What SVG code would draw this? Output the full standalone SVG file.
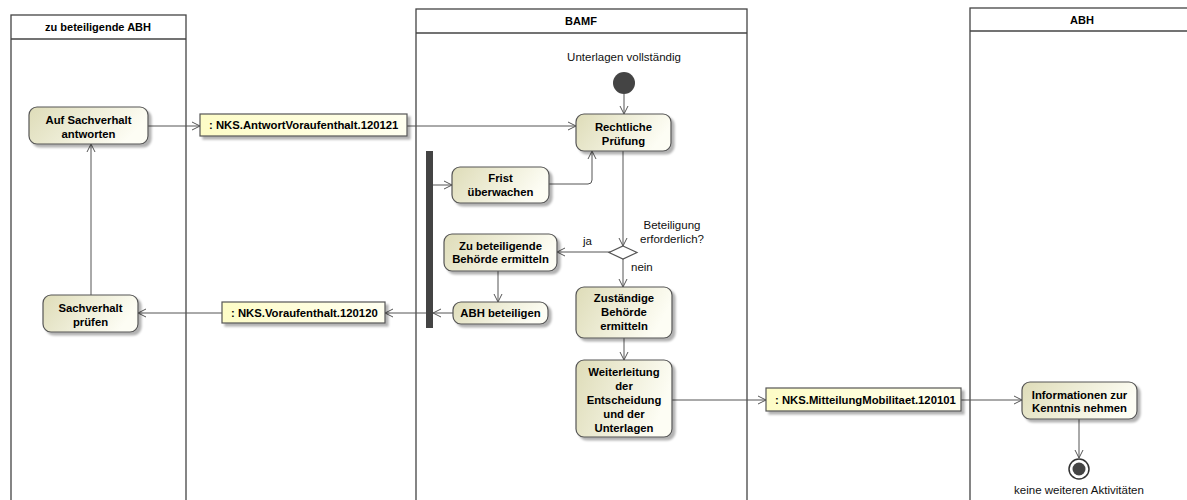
<svg xmlns="http://www.w3.org/2000/svg" width="1187" height="500" viewBox="0 0 1187 500">
<style>
.lane{fill:#fff;stroke:#444;stroke-width:1.3}
.hdr{font-family:"Liberation Sans",Arial,sans-serif;font-size:11px;font-weight:bold;fill:#000;text-anchor:middle}
.act{fill:url(#ag);stroke:#555;stroke-width:1.2;filter:url(#sh)}
.obj{fill:url(#og);stroke:#555;stroke-width:1.2;filter:url(#sh)}
.t{font-family:"Liberation Sans",Arial,sans-serif;font-size:11.3px;font-weight:bold;fill:#000;text-anchor:middle}
.ot{font-family:"Liberation Sans",Arial,sans-serif;font-size:11.3px;font-weight:bold;fill:#000}
.lbl{font-family:"Liberation Sans",Arial,sans-serif;font-size:11.5px;fill:#111}
.c{fill:none;stroke:#555;stroke-width:1;marker-end:url(#ar)}
.cn{fill:none;stroke:#555;stroke-width:1}
</style>
<defs>
<linearGradient id="ag" x1="0" y1="0" x2="1" y2="0.3">
<stop offset="0" stop-color="#dedcb8"/>
<stop offset="1" stop-color="#fdfdf4"/>
</linearGradient>
<linearGradient id="og" x1="0" y1="0" x2="1" y2="0">
<stop offset="0" stop-color="#fdfcc6"/>
<stop offset="1" stop-color="#fffff0"/>
</linearGradient>
<filter id="sh" x="-10%" y="-10%" width="130%" height="140%">
<feDropShadow dx="3" dy="3" stdDeviation="1.3" flood-color="#000" flood-opacity="0.3"/>
</filter>
<marker id="ar" markerWidth="10" markerHeight="10" refX="9" refY="5" orient="auto" markerUnits="userSpaceOnUse">
<path d="M1,1 L9,5 L1,9" fill="none" stroke="#555" stroke-width="1"/>
</marker>
</defs>

<g id="lane-zu-beteiligende-abh">
<rect class="lane" x="11" y="15" width="175" height="500"/>
<line x1="11" y1="39" x2="186" y2="39" stroke="#444" stroke-width="1.3"/>
<text class="hdr" x="98" y="31">zu beteiligende ABH</text>
</g>
<g id="lane-bamf">
<rect class="lane" x="416" y="9" width="331" height="500"/>
<line x1="416" y1="33" x2="747" y2="33" stroke="#444" stroke-width="1.3"/>
<text class="hdr" x="581" y="25">BAMF</text>
</g>
<g id="lane-abh">
<rect class="lane" x="970" y="8" width="225" height="500"/>
<line x1="970" y1="31" x2="1195" y2="31" stroke="#444" stroke-width="1.3"/>
<text class="hdr" x="1082" y="24">ABH</text>
</g>

<g id="connectors">
<path class="c" d="M148,126 H200"/>
<path class="c" d="M407,126 H576"/>
<path class="c" d="M624,94 V114"/>
<path class="c" d="M623,151 V246"/>
<path class="c" d="M610,252 H557"/>
<path class="c" d="M623,259 V287"/>
<path class="c" d="M498,271 V302"/>
<path class="c" d="M453,313 H433"/>
<path class="c" d="M433,185 H452"/>
<path class="c" d="M549,184 H588 Q592,184 592,180 V151"/>
<path class="c" d="M426,313 H385"/>
<path class="c" d="M222,313 H138"/>
<path class="c" d="M91,295 V144"/>
<path class="c" d="M624,338 V360"/>
<path class="c" d="M672,400 H766"/>
<path class="c" d="M961,400 H1022"/>
<path class="c" d="M1079,419 V458"/>
<text class="lbl" x="583" y="245">ja</text>
<text class="lbl" x="631" y="271">nein</text>
</g>

<g id="start">
<text class="lbl" x="624" y="61" text-anchor="middle">Unterlagen vollständig</text>
<circle cx="624" cy="83" r="11" fill="#444"/>
</g>

<g id="auf-sachverhalt-antworten">
<rect class="act" x="29" y="107" width="119" height="37" rx="8"/>
<text class="t" x="88.5" y="124">Auf Sachverhalt</text>
<text class="t" x="88.5" y="137.5">antworten</text>
</g>

<g id="sachverhalt-pruefen">
<rect class="act" x="43" y="295" width="95" height="37" rx="8"/>
<text class="t" x="90.5" y="312">Sachverhalt</text>
<text class="t" x="90.5" y="325.5">prüfen</text>
</g>

<g id="obj-antwort">
<rect class="obj" x="200" y="114" width="207" height="22"/>
<text class="ot" x="209" y="129">: NKS.AntwortVoraufenthalt.120121</text>
</g>

<g id="obj-voraufenthalt">
<rect class="obj" x="222" y="302" width="163" height="21"/>
<text class="ot" x="231" y="316.5">: NKS.Voraufenthalt.120120</text>
</g>

<g id="rechtliche-pruefung">
<rect class="act" x="576" y="114" width="95" height="37" rx="8"/>
<text class="t" x="623.5" y="131">Rechtliche</text>
<text class="t" x="623.5" y="144.5">Prüfung</text>
</g>

<g id="fork">
<rect x="426" y="151" width="7" height="177" fill="#444"/>
</g>

<g id="frist-ueberwachen">
<rect class="act" x="452" y="167" width="97" height="36" rx="8"/>
<text class="t" x="500.5" y="182">Frist</text>
<text class="t" x="500.5" y="195.5">überwachen</text>
</g>

<g id="decision">
<polygon points="623,246 637,252.5 623,259 609,252.5" fill="#fff" stroke="#555" stroke-width="1.2"/>
<text class="lbl" x="672" y="229" text-anchor="middle">Beteiligung</text>
<text class="lbl" x="672" y="243" text-anchor="middle">erforderlich?</text>
</g>

<g id="zu-beteiligende-behoerde">
<rect class="act" x="444" y="234" width="113" height="37" rx="8"/>
<text class="t" x="500.5" y="249.5">Zu beteiligende</text>
<text class="t" x="500.5" y="263">Behörde ermitteln</text>
</g>

<g id="abh-beteiligen">
<rect class="act" x="453" y="302" width="95" height="22" rx="8"/>
<text class="t" x="500.5" y="317">ABH beteiligen</text>
</g>

<g id="zustaendige-behoerde">
<rect class="act" x="576" y="287" width="96" height="51" rx="8"/>
<text class="t" x="624" y="302">Zuständige</text>
<text class="t" x="624" y="316">Behörde</text>
<text class="t" x="624" y="330">ermitteln</text>
</g>

<g id="weiterleitung">
<rect class="act" x="576" y="360" width="96" height="77" rx="8"/>
<text class="t" x="624" y="376">Weiterleitung</text>
<text class="t" x="624" y="390">der</text>
<text class="t" x="624" y="404">Entscheidung</text>
<text class="t" x="624" y="418">und der</text>
<text class="t" x="624" y="432">Unterlagen</text>
</g>

<g id="obj-mitteilung">
<rect class="obj" x="766" y="388" width="195" height="23"/>
<text class="ot" x="775" y="403.5">: NKS.MitteilungMobilitaet.120101</text>
</g>

<g id="informationen">
<rect class="act" x="1022" y="382" width="115" height="37" rx="8"/>
<text class="t" x="1079.5" y="398.5">Informationen zur</text>
<text class="t" x="1079.5" y="412">Kenntnis nehmen</text>
</g>

<g id="end">
<circle cx="1079" cy="469" r="10" fill="#fff" stroke="#333" stroke-width="1.5"/>
<circle cx="1079" cy="469" r="6.5" fill="#444"/>
<text class="lbl" x="1079" y="494" text-anchor="middle">keine weiteren Aktivitäten</text>
</g>
</svg>
